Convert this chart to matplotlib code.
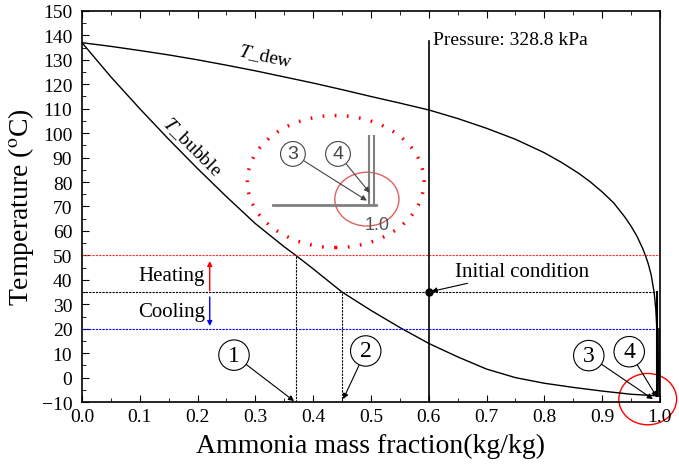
import numpy as np
import matplotlib.pyplot as plt
from matplotlib.patches import Ellipse

plt.rcParams['font.family'] = ['Liberation Serif', 'DejaVu Serif']
plt.rcParams['mathtext.fontset'] = 'stix'

# dew / bubble curves at 328.8 kPa
dewX = [0.0, 0.05, 0.1, 0.15, 0.2, 0.25, 0.3, 0.35, 0.4, 0.45, 0.5, 0.55, 0.6, 0.65, 0.7, 0.75,
        0.8, 0.83, 0.86, 0.88, 0.9, 0.92, 0.94, 0.95, 0.96, 0.97, 0.975, 0.98, 0.985, 0.99,
        0.993, 0.996, 0.998, 1.0]
dewT = [137, 135.5, 133.8, 132, 130, 127.8, 125.5, 123, 120.5, 117.8, 115, 112.3, 109.5, 106,
        102, 97.5, 92, 88, 83.5, 80, 76, 71.5, 65.5, 62, 58, 53, 50, 46.5, 42, 35,
        28, 15, 0, -7.5]
bubX = [0.0, 0.05, 0.1, 0.15, 0.2, 0.25, 0.3, 0.35, 0.37, 0.4, 0.45, 0.5, 0.55, 0.6, 0.65,
        0.7, 0.75, 0.8, 0.85, 0.9, 0.95, 1.0]
bubT = [137, 123, 110, 97.5, 85.5, 74, 63, 53.5, 50, 44.5, 35, 27.5, 20.5, 14, 8.5,
        3.5, 0, -2.3, -4, -5.5, -6.8, -7.5]

heatT = 50
initT = 35
coolT = 20
initX = 0.6
state1X = 0.37
state2X = 0.45
xTicks = [0.0, 0.1, 0.2, 0.3, 0.4, 0.5, 0.6, 0.7, 0.8, 0.9, 1.0]
yTicks = list(range(-10, 151, 10))

fig = plt.figure(figsize=(6.79, 4.77), dpi=100)
ax = fig.add_axes([0.1208, 0.155, 0.851, 0.82])

ax.plot(dewX, dewT, color='black', lw=1.0)
ax.plot(bubX, bubT, color='black', lw=1.0)

dash = (0, (2, 1))
ax.plot([0, 1.0], [heatT, heatT], color='#ff3030', lw=0.8, ls=dash)
ax.plot([0, 0.995], [initT, initT], color='black', lw=0.8, ls=dash)
ax.plot([0, 1.0], [coolT, coolT], color='blue', lw=0.8, ls=dash)
ax.plot([0.995, 0.995], [initT, bubT[-1]], color='black', lw=1.5)
ax.plot([0.998, 0.998], [coolT, bubT[-1]], color='black', lw=1.2)

ax.plot([state1X, state1X], [-10, heatT], color='black', lw=0.8, ls=dash)
ax.plot([state2X, state2X], [-10, initT], color='black', lw=0.8, ls=dash)
ax.plot([initX, initX], [-10, 137.5], color='black', lw=1.2)
ax.plot([initX], [initT], 'o', color='black', ms=5)

ax.text(0.607, 138.5, 'Pressure: 328.8 kPa', fontsize=14, va='center')
ax.annotate('Initial condition', xy=(initX, initT), xytext=(0.645, 43.6), fontsize=15,
            va='center', arrowprops=dict(arrowstyle='-|>', color='black', lw=0.8,
                                         mutation_scale=8, shrinkA=0, shrinkB=2))
ax.text(0.318, 131.6, r'$T$_dew', fontsize=14, ha='center', va='center', rotation=-12)
ax.text(0.19, 94.7, r'$T$_bubble', fontsize=14, ha='center', va='center', rotation=-45)

ax.text(0.213, 41.6, 'Heating', fontsize=15, ha='right', va='center')
ax.text(0.213, 27.2, 'Cooling', fontsize=15, ha='right', va='center')
ax.annotate('', xy=(0.221, 47.7), xytext=(0.221, 35.5),
            arrowprops=dict(arrowstyle='-|>', color='red', lw=1.0, mutation_scale=7, shrinkA=0, shrinkB=0))
ax.annotate('', xy=(0.221, 21.1), xytext=(0.221, 33.0),
            arrowprops=dict(arrowstyle='-|>', color='blue', lw=1.0, mutation_scale=7, shrinkA=0, shrinkB=0))

# circled state labels
def circled(txt, pos, tip, color='black', size=17, family=None):
    ax.annotate(txt, xy=tip, xytext=pos, fontsize=size, color=color, ha='center', va='center',
                family=family,
                bbox=dict(boxstyle='circle,pad=0.2', fc='white', ec=color, lw=0.8),
                arrowprops=dict(arrowstyle='-|>', color=color, lw=0.8, mutation_scale=8,
                                shrinkA=0, shrinkB=0))

circled('1', (0.263, 9.2), (0.367, -9.6))
circled('2', (0.491, 10.9), (0.452, -8.8))
circled('3', (0.877, 9.0), (0.988, -8.8))
circled('4', (0.947, 10.6), (0.995, -8.0))

ax.add_patch(Ellipse((0.979, -8.8), 0.1, 21, fill=False, ec='red', lw=1.0, clip_on=False))

# zoomed inset drawing
ax.add_patch(Ellipse((0.439, 80.2), 0.306, 54, fill=False, ec='red', lw=2.5, ls=(0, (0.5, 3))))
ax.plot([0.33, 0.508], [70.6, 70.6], color='gray', lw=2)
ax.plot([0.497, 0.497], [70.6, 98.8], color='gray', lw=1.5)
ax.plot([0.505, 0.505], [70.6, 98.8], color='gray', lw=1.5)
ax.add_patch(Ellipse((0.493, 73.0), 0.111, 22, fill=False, ec='#e06060', lw=1.0))
ax.text(0.51, 62.8, '1.0', fontsize=13, color='#555555', ha='center', va='center',
        family='Liberation Sans')
circled('3', (0.365, 91.5), (0.493, 72.4), color='#444444', size=14, family='Liberation Sans')
circled('4', (0.443, 91.5), (0.498, 75.6), color='#444444', size=14, family='Liberation Sans')

ax.set_xlim(0, 1.0)
ax.set_ylim(-10, 150)
ax.set_xticks(xTicks)
ax.set_xticklabels(['%.1f' % v for v in xTicks])
ax.set_yticks(yTicks)
ax.set_xticks(np.arange(0, 1.001, 0.05), minor=True)
ax.set_yticks(np.arange(-10, 151, 5), minor=True)
ax.tick_params(which='both', direction='in', top=True, right=False, labelsize=14)
ax.tick_params(axis='x', which='major', pad=4)
ax.tick_params(axis='y', which='major', pad=7)
ax.tick_params(which='major', length=5)
ax.tick_params(which='minor', length=3)
for s in ax.spines.values():
    s.set_linewidth(1.2)

ax.set_xlabel('Ammonia mass fraction(kg/kg)', fontsize=20, labelpad=6)
ax.set_ylabel(r'Temperature ($^{\rm o}$C)', fontsize=20, labelpad=4)

fig.savefig('out.png', dpi=100)
